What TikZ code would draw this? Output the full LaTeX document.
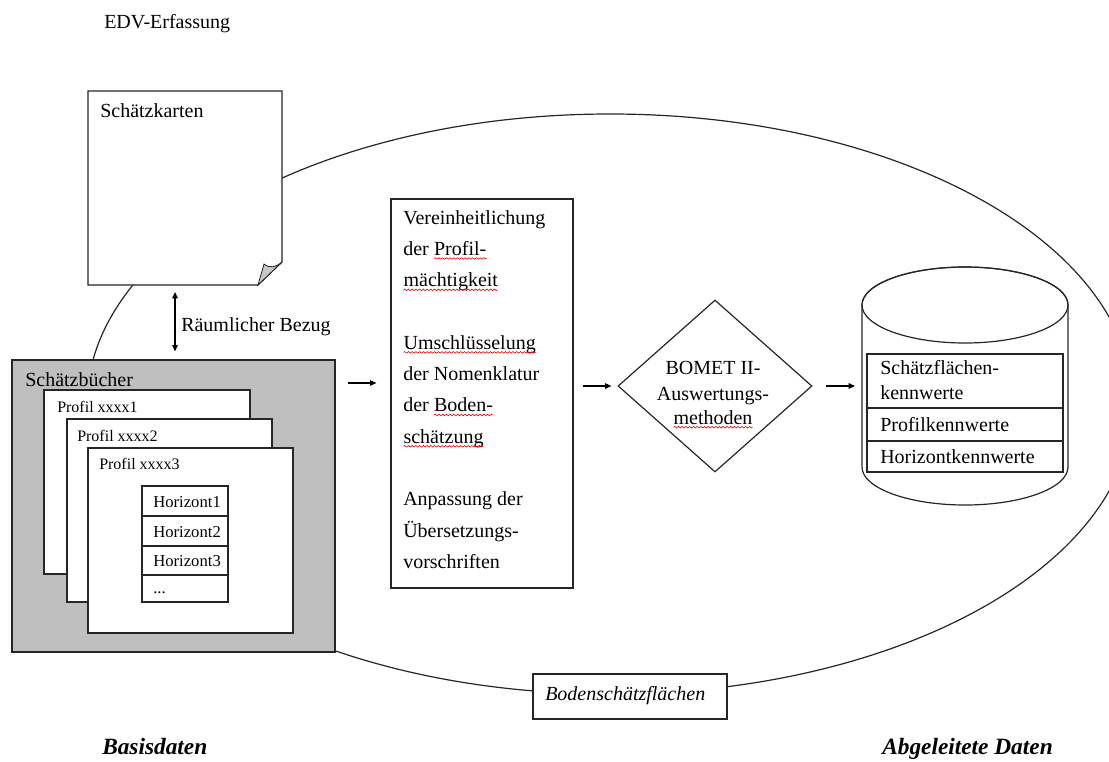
\documentclass[tikz,border=0pt]{standalone}
\usepackage{fontspec}
\setmainfont{Liberation Serif}
\usetikzlibrary{arrows.meta,decorations.pathmorphing,shapes.geometric,calc}
\newcommand\wavy[1]{\tikz[baseline=(wv.base)]{\node[rectangle,draw=none,fill=none,inner sep=0pt,outer sep=0pt,anchor=base] (wv) {#1};\draw[red!85!black,line width=0.45pt,decorate,decoration={snake,amplitude=0.6pt,segment length=2.8pt}] ([yshift=-2.4pt]wv.base west) -- ([yshift=-2.4pt]wv.base east);}}
\begin{document}
\begin{tikzpicture}[x=0.75pt,y=-0.75pt,
  outl/.style={draw=black!85,line width=0.9pt},
  txt/.style={anchor=base west,inner sep=0pt,font=\fontsize{15}{18}\selectfont},
  ctxt/.style={anchor=base,inner sep=0pt,font=\fontsize{15}{18}\selectfont},
  ptxt/.style={anchor=base west,inner sep=0pt,font=\fontsize{12}{14}\selectfont},
  htxt/.style={anchor=base west,inner sep=0pt,font=\fontsize{12.5}{14}\selectfont},
  big/.style={anchor=base west,inner sep=0pt,font=\fontsize{17.5}{20}\selectfont\bfseries\itshape},
  boxn/.style={outl,fill=white,rectangle,inner sep=0pt,outer sep=0pt},
  arr/.style={draw=black,line width=0.8pt,-{Triangle[length=4.8pt,width=4.2pt]}},
  darr/.style={draw=black,line width=0.8pt,{Triangle[length=4.8pt,width=4.2pt]}-{Triangle[length=4.8pt,width=4.2pt]}}]
\useasboundingbox (0,0) rectangle (1109,761);
\clip (0,0) rectangle (1109,761);

% big oval
\draw[outl] (610,404) ellipse [x radius=392.25pt,y radius=217.5pt];

% Schaetzkarten page
\node[inner sep=0pt,outer sep=0pt,minimum width=194*0.75pt,minimum height=194*0.75pt] (page) at (185,188) {};
\draw[outl,fill=white] (page.north west) -- (page.north east) -- (282,262) -- (258,285) -- (page.south west) -- cycle;
\draw[outl,line width=0.6pt,fill=black!22] (258,285) -- (264,264) .. controls (270,269) and (276,267) .. (282,262) -- cycle;
\node[txt] (tkarten) at (100,117) {Schätzkarten};

% Schaetzbuecher
\node[outl,fill=black!25,minimum width=323*0.75pt,minimum height=292*0.75pt,inner sep=0pt] (gbox) at (173.5,506) {};
\node[txt] (tbuecher) at (25,386) {Schätzbücher};
\node[boxn,minimum width=206*0.75pt,minimum height=184*0.75pt] (p1) at (147,482) {};
\node[ptxt] (tp1) at (57,412) {Profil xxxx1};
\node[boxn,minimum width=205*0.75pt,minimum height=183*0.75pt] (p2) at (169.5,510.5) {};
\node[ptxt] (tp2) at (77,441) {Profil xxxx2};
\node[boxn,minimum width=205*0.75pt,minimum height=185*0.75pt] (p3) at (190.5,540.5) {};
\node[ptxt] (tp3) at (99,469) {Profil xxxx3};
\node[boxn,minimum width=86*0.75pt,minimum height=30*0.75pt] (h1) at (185,501) {};
\node[boxn,minimum width=86*0.75pt,minimum height=30*0.75pt] (h2) at (185,531) {};
\node[boxn,minimum width=86*0.75pt,minimum height=29*0.75pt] (h3) at (185,560.5) {};
\node[boxn,minimum width=86*0.75pt,minimum height=27*0.75pt] (h4) at (185,588.5) {};
\node[htxt] (th1) at (153,507) {Horizont1};
\node[htxt] (th2) at (153,537) {Horizont2};
\node[htxt] (th3) at (153,566) {Horizont3};
\node[htxt] (th4) at (153,593) {...};

% spatial relation
\draw[darr,shorten <=7*0.75pt,shorten >=8*0.75pt] ([xshift=-7.5pt]page.south) -- ([xshift=-7.5pt]page.south |- gbox.north);
\node[txt] (tbezug) at (181,331) {Räumlicher Bezug};

% rules box
\node[outl,minimum width=182*0.75pt,minimum height=389*0.75pt,inner sep=0pt] (rules) at (482,393.5) {};
\node[txt] (r1) at (403,224) {Vereinheitlichung};
\node[txt] (r2) at (403,255.3) {der \wavy{Profil-}};
\node[txt] (r3) at (403,286.6) {\wavy{mächtigkeit}};
\node[txt] (r4) at (403,349.2) {\wavy{Umschlüsselung}};
\node[txt] (r5) at (403,380.5) {der Nomenklatur};
\node[txt] (r6) at (403,411.8) {der \wavy{Boden-}};
\node[txt] (r7) at (403,443.1) {\wavy{schätzung}};
\node[txt] (r8) at (403,505.7) {Anpassung der};
\node[txt] (r9) at (403,537) {Übersetzungs-};
\node[txt] (r10) at (403,568.3) {vorschriften};

% diamond
\node[outl,diamond,minimum width=194*0.75pt,minimum height=172*0.75pt,inner sep=0pt] (dia) at (715,386) {};
\node[ctxt] (d1) at (713,374) {BOMET II-};
\node[ctxt] (d2) at (713,400) {Auswertungs-};
\node[ctxt] (d3) at (713,424) {\wavy{methoden}};

% cylinder
\draw[outl,fill=white] (862,305) -- (862,467) arc[start angle=180,end angle=360,x radius=77.25pt,y radius=28.5pt] -- (1068,305) arc[start angle=0,end angle=180,x radius=77.25pt,y radius=28.5pt] -- cycle;
\draw[outl] (965,305) ellipse [x radius=77.25pt,y radius=28.5pt];
\coordinate (cyl) at (862,386);
\node[boxn,minimum width=196*0.75pt,minimum height=54*0.75pt] (k1) at (965,381) {};
\node[boxn,minimum width=196*0.75pt,minimum height=33*0.75pt] (k2) at (965,424.5) {};
\node[boxn,minimum width=196*0.75pt,minimum height=31*0.75pt] (k3) at (965,456.5) {};
\node[txt] (tk1) at (880,374) {Schätzflächen-};
\node[txt] (tk1b) at (880,399) {kennwerte};
\node[txt] (tk2) at (880,431) {Profilkennwerte};
\node[txt] (tk3) at (880,463) {Horizontkennwerte};

% arrows
\draw[arr,shorten <=12*0.75pt,shorten >=14*0.75pt] (gbox.east |- 0,383) -- (rules.west |- 0,383);
\draw[arr,shorten <=9*0.75pt,shorten >=6*0.75pt] (rules.east |- dia.west) -- (dia.west);
\draw[arr,shorten <=13*0.75pt,shorten >=7*0.75pt] (dia.east) -- (cyl);

% Bodenschaetzflaechen
\node[boxn,minimum width=194*0.75pt,minimum height=45*0.75pt] (bsf) at (630,696.5) {};
\node[txt,font=\fontsize{15}{18}\selectfont\itshape] (tbsf) at (545,700) {Bodenschätzflächen};

% labels
\node[txt] (edv) at (104,28) {EDV-Erfassung};
\node[big] (basis) at (102,754) {Basisdaten};
\node[big] (abg) at (882,754) {Abgeleitete Daten};
\end{tikzpicture}
\end{document}
